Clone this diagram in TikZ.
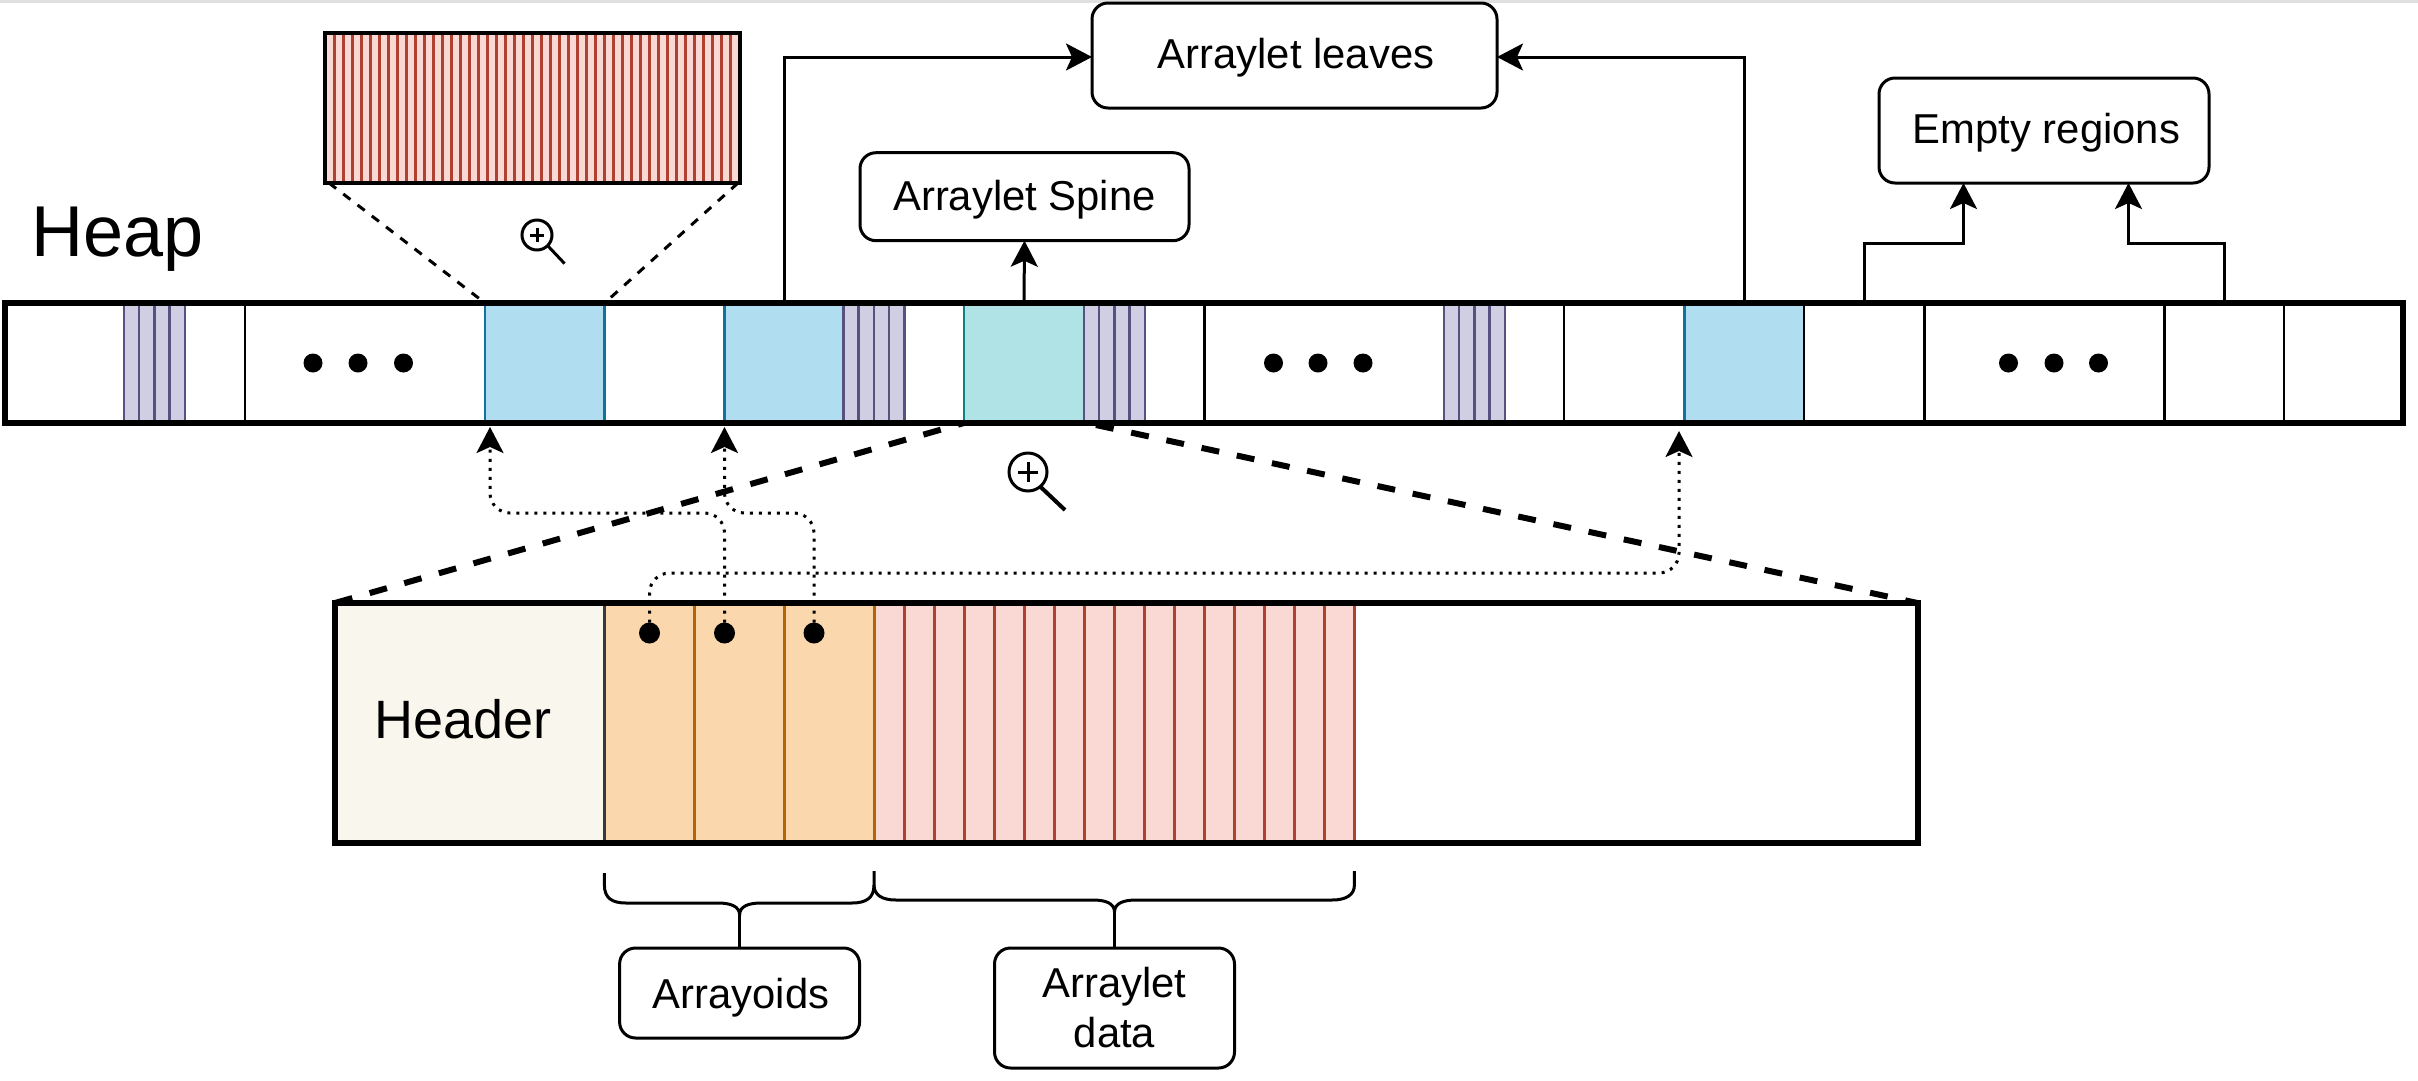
\documentclass[tikz,border=0pt]{standalone}
\usepackage{fontspec}
\setmainfont{Liberation Sans}
\usetikzlibrary{arrows.meta,calc}
\definecolor{bluefill}{HTML}{B1DDF0}\definecolor{bluedraw}{HTML}{10739E}
\definecolor{tealfill}{HTML}{B0E3E6}\definecolor{tealdraw}{HTML}{0E8088}
\definecolor{purplefill}{HTML}{D0CEE2}\definecolor{purpledraw}{HTML}{56517E}
\definecolor{pinkfill}{HTML}{FAD9D5}\definecolor{pinkdraw}{HTML}{AE4132}
\definecolor{orangefill}{HTML}{FAD7AC}\definecolor{orangedraw}{HTML}{B46504}
\definecolor{headerfill}{HTML}{F9F7ED}\definecolor{headerdraw}{HTML}{36393D}
\tikzset{
  every node/.style={inner sep=0pt,outer sep=0pt},
  cellbox/.style={rectangle,anchor=north west,minimum height=120pt,line width=2.5pt},
  bluecell/.style={cellbox,fill=bluefill,draw=bluedraw},
  tealcell/.style={cellbox,fill=tealfill,draw=tealdraw},
  framebox/.style={rectangle,anchor=north west,draw=black,line width=6pt},
  labelbox/.style={rectangle,rounded corners=16pt,draw=black,line width=3pt,fill=white,align=center,
    font=\fontsize{41.8}{50}\selectfont},
  oneline/.style={text height=30pt,text depth=#1},
  tip/.style={-{Stealth[length=26pt,width=27pt,inset=6pt]}},
  link/.style={line width=3pt,tip},
  plain/.style={line width=3pt},
  ptr/.style={line width=3pt,dash pattern=on 3pt off 6pt,rounded corners=20pt,tip},
  thindash/.style={line width=3pt,dash pattern=on 9pt off 9pt},
  thickdash/.style={line width=6pt,dash pattern=on 18pt off 18pt},
  dotnode/.style={circle,fill=black,minimum size=#1},
  lens/.style={circle,draw=black,line width=3pt},
  thinsep/.style={line width=2.5pt},
}
\begin{document}
\begin{tikzpicture}[x=1pt,y=-1pt]
\useasboundingbox (0,0) rectangle (2418,1080);
\fill[white] (0,0) rectangle (2418,1080);
\fill[black!12] (0,0) rectangle (2418,2.5);

% heap cells
\node[bluecell,minimum width=119.6pt] (blueA) at (485,303) {};
\node[bluecell,minimum width=119.5pt] (blueB) at (724.5,303) {};
\node[tealcell,minimum width=120pt] (tealA) at (964,303) {};
\node[bluecell,minimum width=119.5pt] (blueC) at (1684.5,303) {};
\foreach \x in {124,843.5,1084,1444}{
  \fill[purplefill] (\x,303) rectangle ({\x+61},423);
  \foreach \i in {0,...,4}{\draw[purpledraw,thinsep] ({\x+\i*15.2},303) -- ({\x+\i*15.2},423);}
}
\foreach \x in {245,1204.5,1564,1804,1924.5,2164.5,2284}{
  \draw[thinsep] (\x,303) -- (\x,423);
}
\node[framebox,minimum width=2398.5pt,minimum height=120pt] (heapbar) at (4.5,303) {};
\foreach \n/\x in {a/313,b/358,c/403.5,d/1273.5,e/1318,f/1363,g/2008.5,h/2054,i/2098.5}{
  \node[dotnode=19pt] (ell\n) at (\x,363) {};
}
\node[font=\fontsize{72}{84}\selectfont,anchor=base] (heap) at (118,256) {Heap};

% red strip
\node[rectangle,anchor=north west,fill=pinkfill,minimum width=415pt,minimum height=150pt] (strip) at (325,33) {};
\foreach \k in {1,...,45}{\draw[pinkdraw,line width=3pt] ({325.5+9*\k},33) -- ({325.5+9*\k},183);}
\node[framebox,line width=3.5pt,minimum width=415pt,minimum height=150pt] (stripframe) at (325,33) {};

% magnifiers
\draw[thindash] (stripframe.south west) ++(4,0) -- (blueA.north west);
\draw[thindash] (stripframe.south east) ++(-2,0) -- (blueA.north east);
\node[lens,minimum size=30pt] (magA) at (537,235) {};
\draw[line width=3pt] (537,228) -- (537,242) (530,235) -- (544,235);
\draw[line width=3pt] (magA.-45) -- ++(17,18);
\node[lens,minimum size=38pt] (magB) at (1028,472) {};
\draw[line width=3pt] (1028,462) -- (1028,482) (1018,472) -- (1038,472);
\draw[line width=4pt] (magB.-50) -- (1065,510);

% labels on top
\node[labelbox,oneline=4.4pt,minimum width=405pt,minimum height=105pt] (leaves) at (1294.5,55.5) {\hspace*{3pt}Arraylet leaves};
\node[labelbox,oneline=3.4pt,minimum width=329pt,minimum height=88pt] (spine) at (1024.5,196.7) {Arraylet Spine};
\node[labelbox,oneline=4.4pt,minimum width=330pt,minimum height=105pt] (empty) at (2044,130.5) {\hspace*{5pt}Empty regions};

\coordinate (outA) at (784.5,303);
\coordinate (outB) at (1744,303);
\coordinate (outC) at (1864.5,303);
\coordinate (outD) at (2224.5,303);
\draw[link] (outA) |- ([yshift=-1.5pt]leaves.west);
\draw[link] (outB) |- ([yshift=-1.5pt]leaves.east);
\draw[link] (tealA.north) -- (spine.south);
\coordinate (inC) at (1963.5,183);
\coordinate (inD) at (2128.5,183);
\draw[link] (outC) -- (1864.5,243.5) -| (inC);
\draw[link] (outD) -- (2224.5,243.5) -| (inD);

% lower block
\node[rectangle,anchor=north west,fill=headerfill,minimum width=269.4pt,minimum height=240pt] (header) at (335,603) {};
\node[rectangle,anchor=north west,fill=orangefill,minimum width=270pt,minimum height=240pt] (arrayoidcells) at (604.5,603) {};
\node[rectangle,anchor=north west,fill=pinkfill,minimum width=480pt,minimum height=240pt] (datacells) at (874.5,603) {};
\draw[headerdraw,thinsep] (604.5,603) -- (604.5,843);
\foreach \x in {694.5,784.5,874.5}{\draw[orangedraw,thinsep] (\x,603) -- (\x,843);}
\foreach \k in {1,...,16}{\draw[pinkdraw,thinsep] ({874.5+30*\k},603) -- ({874.5+30*\k},843);}
\node[framebox,minimum width=1582.5pt,minimum height=240pt] (block) at (335,603) {};
\node[font=\fontsize{54}{62}\selectfont,anchor=base] (headertext) at (463,738) {Header};

\coordinate (spreadR) at (1096,425);
\draw[thickdash] (block.north west) -- (tealA.south west);
\draw[thickdash] (spreadR) -- (block.north east);

\node[dotnode=21pt] (ptrA) at (649.5,633) {};
\node[dotnode=21pt] (ptrB) at (724.5,633) {};
\node[dotnode=21pt] (ptrC) at (814,633) {};
\coordinate (tipA) at (490,427);
\coordinate (tipB) at (724.5,427);
\coordinate (tipC) at (1679,431);
\draw[ptr] (ptrB.north) |- (490,513) -- (tipA);
\draw[ptr] (ptrC.north) |- (724.5,513) -- (tipB);
\draw[ptr] (ptrA.north) |- (1679,573) -- (tipC);

% braces
\coordinate (braceA) at (739.6,915);
\coordinate (braceB) at (1114.5,912);
\draw[plain] (604.4,873) -- (604.4,885) .. controls (604.4,898) and (612,903) .. (626,903) -- (718,903)
  .. controls (730,903) and (739.6,906) .. (braceA) .. controls (739.6,906) and (749,903) .. (761,903)
  -- (852,903) .. controls (866,903) and (874,898) .. (874,885) -- (874,871);
\draw[plain] (874,885) .. controls (874,895) and (882,900) .. (896,900) -- (1093,900)
  .. controls (1105,900) and (1114.5,903) .. (braceB) .. controls (1114.5,903) and (1124,900) .. (1136,900)
  -- (1332,900) .. controls (1346,900) and (1354.4,895) .. (1354.4,885) -- (1354.4,871);
\node[labelbox,oneline=0pt,minimum width=240pt,minimum height=90pt] (arrayoids) at (739.6,993) {\hspace*{3pt}Arrayoids};
\node[labelbox,minimum width=240pt,minimum height=120pt] (data) at (1114.5,1008) {Arraylet\\data};
\draw[plain] (braceA) -- (arrayoids.north);
\draw[plain] (braceB) -- (data.north);
\end{tikzpicture}
\end{document}
